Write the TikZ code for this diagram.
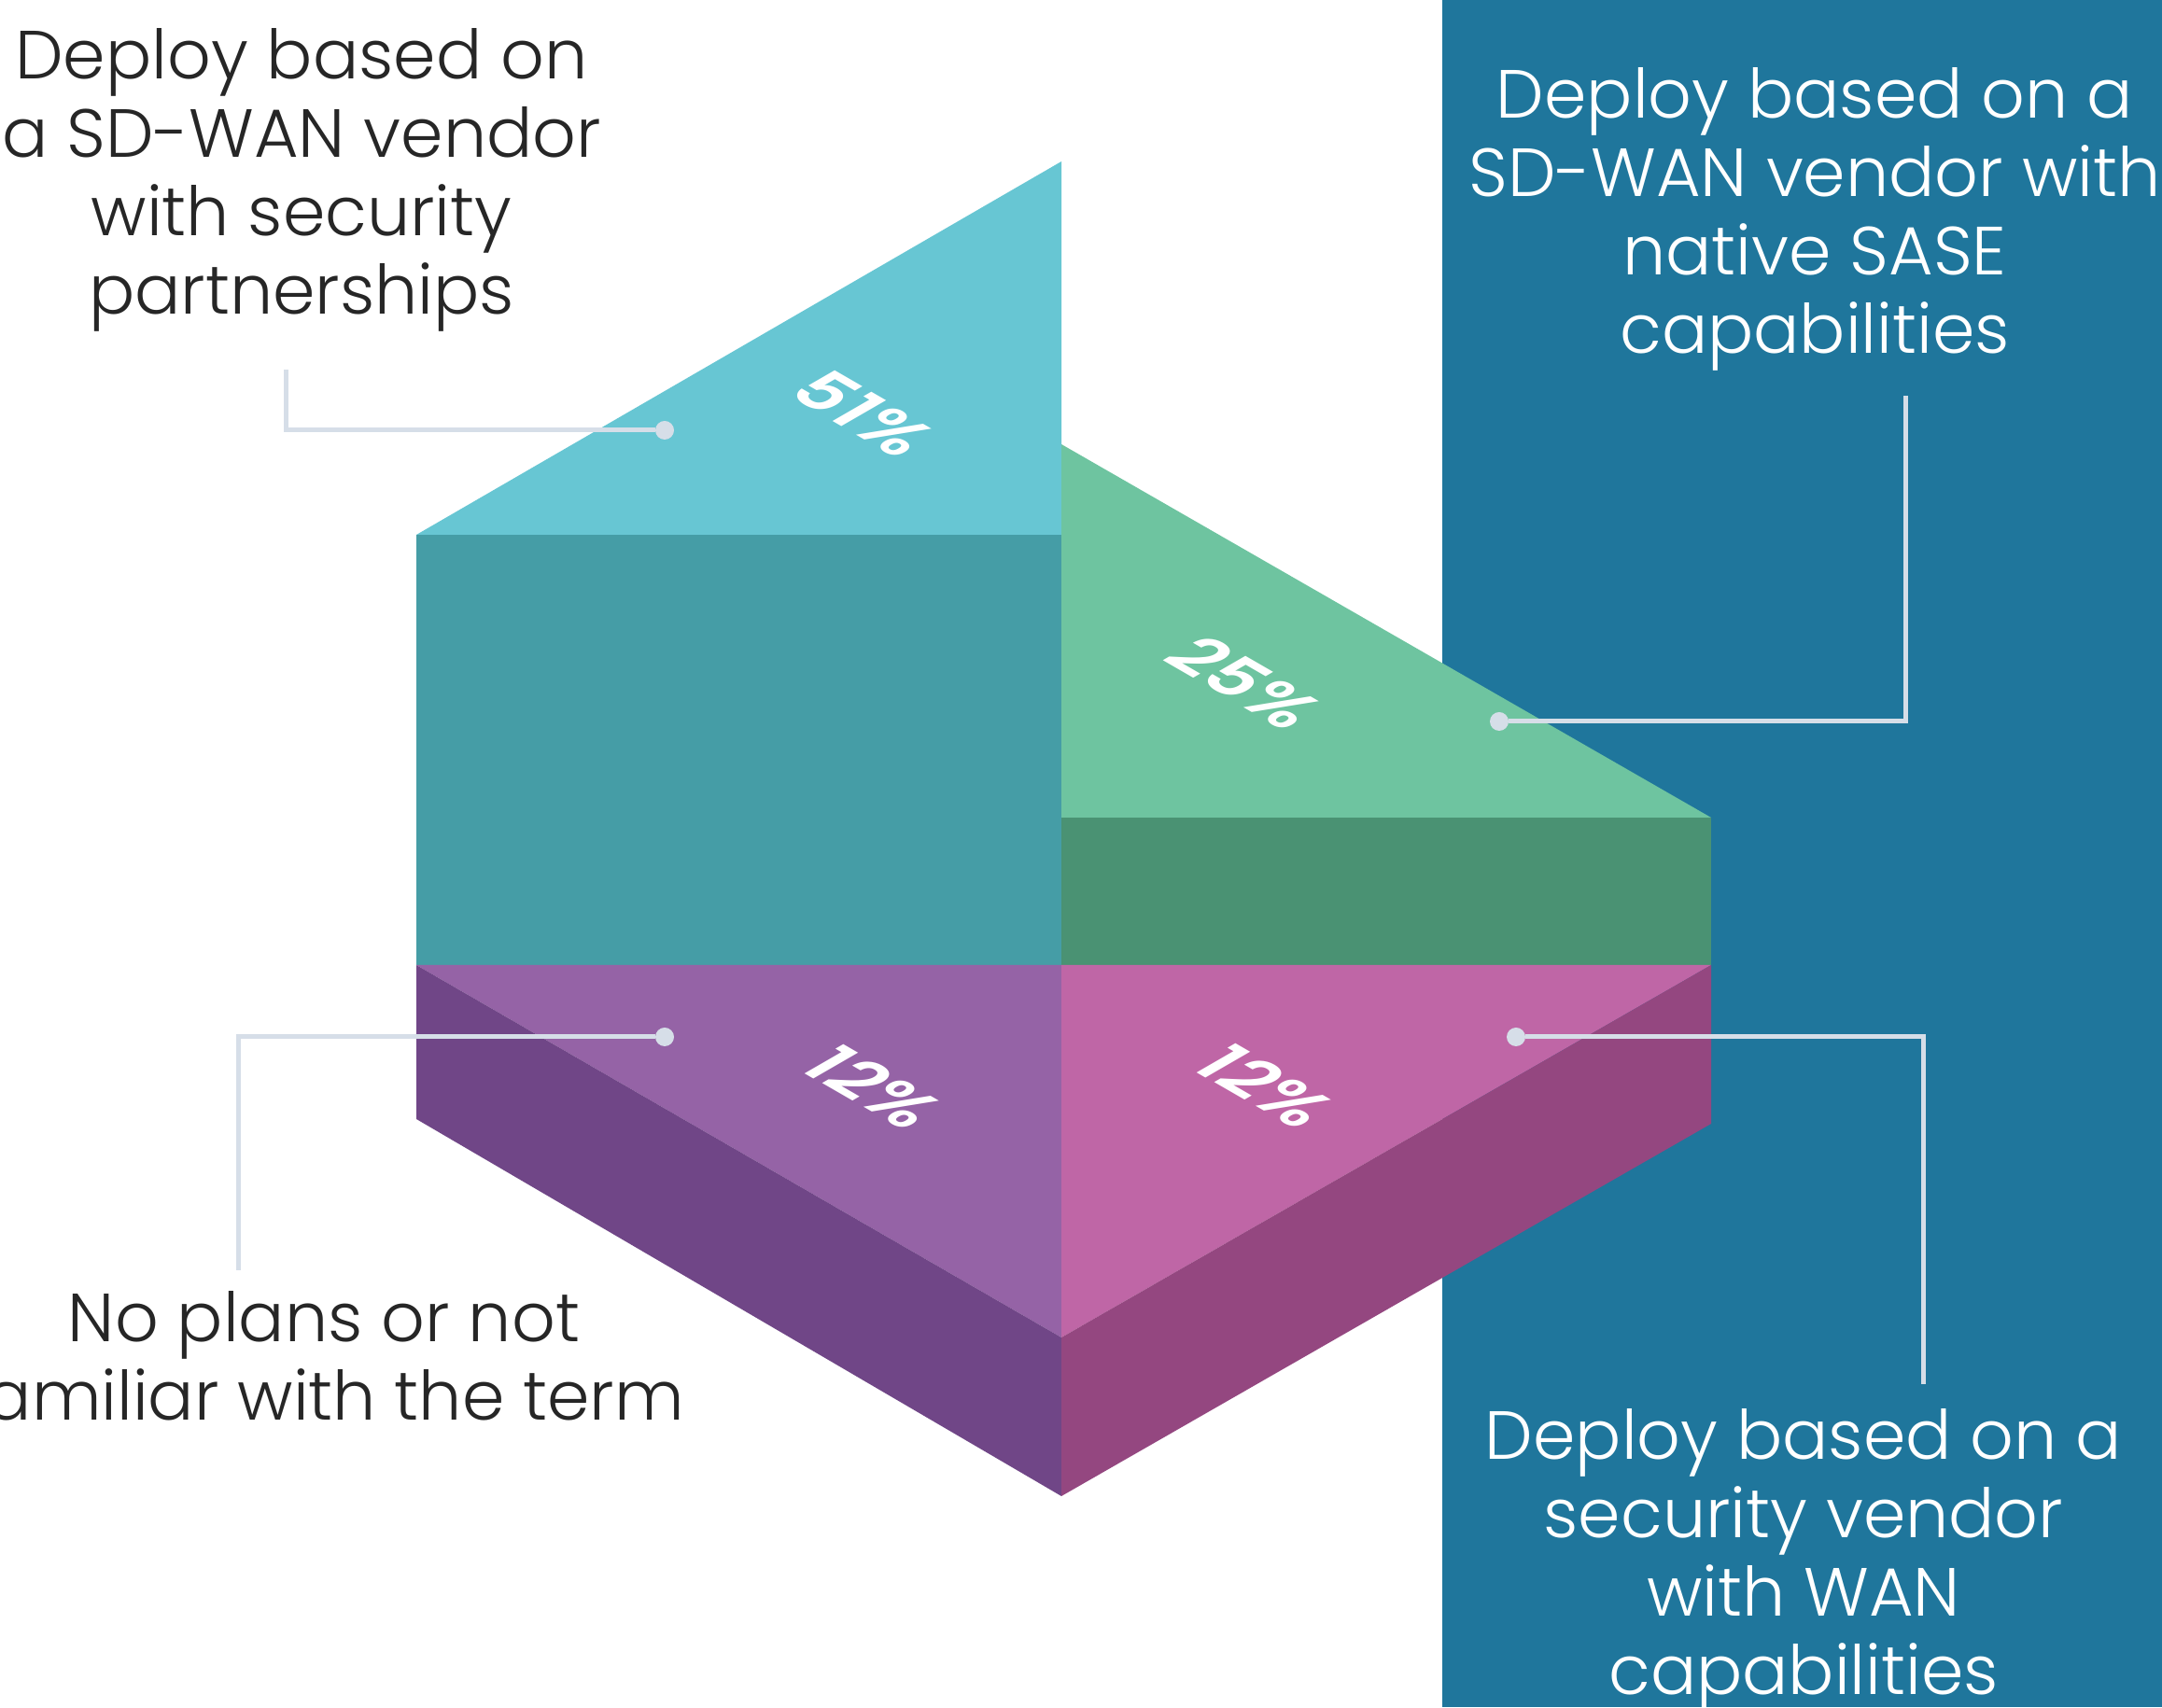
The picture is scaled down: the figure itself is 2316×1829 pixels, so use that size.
\documentclass[tikz,border=0pt]{standalone}
\usepackage{fontspec}
\setmainfont{Poppins}[UprightFont=* Light, BoldFont=* SemiBold]
\usetikzlibrary{arrows.meta,positioning}

\definecolor{bgblue}{HTML}{1F769C}
\definecolor{cyantop}{HTML}{67C6D3}
\definecolor{cyanfront}{HTML}{459DA6}
\definecolor{greentop}{HTML}{6EC4A0}
\definecolor{greenfront}{HTML}{4A9273}
\definecolor{purptop}{HTML}{9563A6}
\definecolor{purpside}{HTML}{704687}
\definecolor{pinktop}{HTML}{BF66A6}
\definecolor{pinkside}{HTML}{944780}
\definecolor{leadgray}{HTML}{D6DEE8}
\definecolor{darktext}{HTML}{262626}

\begin{document}
\begin{tikzpicture}[x=1pt,y=1pt,
    leader/.style={draw=leadgray,line width=5pt},
    dot/.style={circle,fill=leadgray,inner sep=0pt,minimum size=20pt},
    caption/.style={align=center,inner sep=0pt,anchor=base,font=\fontsize{73}{84}\selectfont},
    pct/.style={text=white,inner sep=0pt,font=\bfseries\fontsize{76}{80}\selectfont,cm={0.866,-0.5,0.866,0.5,(0,0)}}]
        \useasboundingbox (0,0) rectangle (2316,1829);
        \clip (0,0) rectangle (2316,1829);

        % Background
        \fill[bgblue] (1545,0) rectangle (2316,1829);

        % Corners of the block
        \coordinate (apex) at (1137,1656);
        \coordinate (tl) at (446,1256);
        \coordinate (tc) at (1137,1256);
        \coordinate (gapex) at (1137,1353);
        \coordinate (gr) at (1833,953);
        \coordinate (gc) at (1137,953);
        \coordinate (ml) at (446,795);
        \coordinate (mc) at (1137,795);
        \coordinate (mr) at (1833,795);
        \coordinate (pv) at (1137,396);
        \coordinate (bl) at (446,630);
        \coordinate (bc) at (1137,226);
        \coordinate (br) at (1833,625);

        % Faces
        \fill[cyantop] (apex) -- (tl) -- (tc) -- cycle;
        \fill[cyanfront] (tl) rectangle (mc);
        \fill[greentop] (gapex) -- (gr) -- (gc) -- cycle;
        \fill[greenfront] (gc) rectangle (mr);
        \fill[purptop] (ml) -- (mc) -- (pv) -- cycle;
        \fill[purpside] (ml) -- (pv) -- (bc) -- (bl) -- cycle;
        \fill[pinktop] (mc) -- (mr) -- (pv) -- cycle;
        \fill[pinkside] (pv) -- (mr) -- (br) -- (bc) -- cycle;

        % Percentages
        \node[pct] (l51) at (925,1386) {51\%};
        \node[pct] (l25) at (1334,1098) {25\%};
        \node[pct] (l12a) at (936,664) {12\%};
        \node[pct] (l12b) at (1356,665) {12\%};

        % Captions (anchored on their last line)
        \node[caption,text=darktext] (capSec) at (323,1492) {Deploy based on\\a SD-WAN vendor\\with security\\partnerships};
        \node[caption,text=white] (capSase) at (1944,1450) {Deploy based on a\\SD-WAN vendor with\\native SASE\\capabilities};
        \node[caption,text=darktext] (capNone) at (347,307) {No plans or not\\familiar with the term};
        \node[caption,text=white] (capWan) at (1932,14) {Deploy based on a\\security vendor\\with WAN\\capabilities};

        % Leaders
        \node[dot] (d51) at (712,1368) {};
        \node[dot] (d25) at (1606,1056) {};
        \node[dot] (d12a) at (712,718) {};
        \node[dot] (d12b) at (1624,718) {};
        \coordinate (e51) at (306,1433);
        \coordinate (e25) at (2041,1405);
        \coordinate (e12a) at (255,468);
        \coordinate (e12b) at (2060,346);
        \draw[leader] (d51) -| (e51);
        \draw[leader] (d25) -| (e25);
        \draw[leader] (d12a) -| (e12a);
        \draw[leader] (d12b) -| (e12b);
\end{tikzpicture}
\end{document}
